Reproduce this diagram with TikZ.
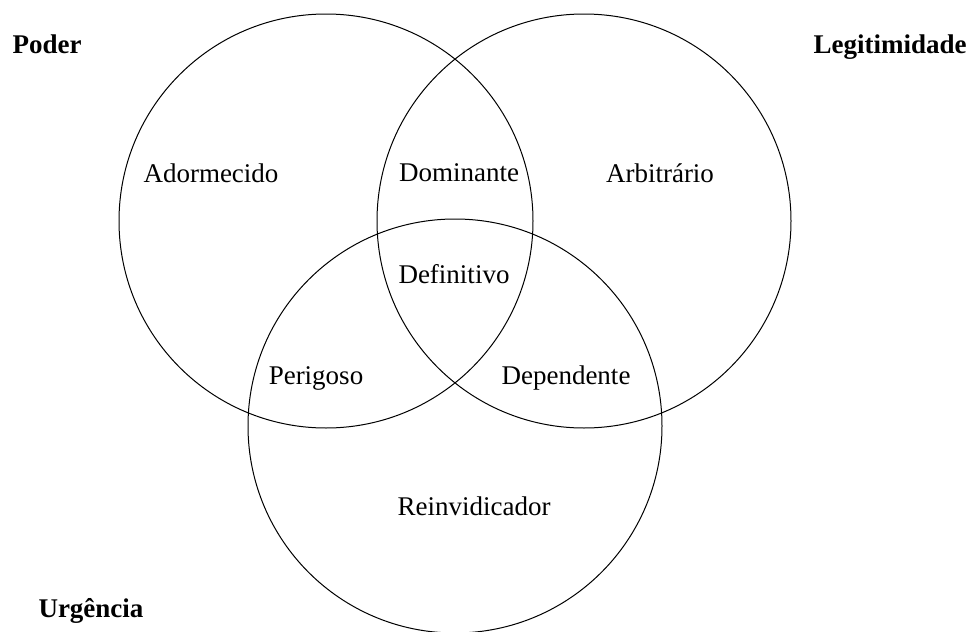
\documentclass[tikz,border=0pt]{standalone}
\usepackage{fontspec}
\setmainfont{Liberation Serif}
\usetikzlibrary{positioning}

\begin{document}
\begin{tikzpicture}[
        x=1pt, y=-1pt,
        every node/.style={align=center, inner sep=0pt},
        set/.style={draw, circle, minimum size=414pt, line width=1pt},
        region/.style={anchor=base, font=\fontsize{27}{32}\selectfont},
        title/.style={anchor=base, font=\fontsize{27}{32}\selectfont\bfseries},
    ]
    \useasboundingbox (0,0) rectangle (975,632);
    % Circles
    \node[set] (P) at (326,221) {};
    \node[set] (L) at (584,221) {};
    \node[set] (U) at (455,426) {};
    % Set names
    \node[title] (nP) at (47,53) {Poder};
    \node[title] (nL) at (890,53) {Legitimidade};
    \node[title] (nU) at (91,617) {Urgência};
    % Regions
    \node[region] (Ado) at (211,182) {Adormecido};
    \node[region] (Dom) at (459,181) {Dominante};
    \node[region] (Arb) at (660,182) {Arbitrário};
    \node[region] (Def) at (454,283) {Definitivo};
    \node[region] (Per) at (316,384) {Perigoso};
    \node[region] (Dep) at (566,384) {Dependente};
    \node[region] (Rei) at (474,515) {Reinvidicador};
\end{tikzpicture}
\end{document}
